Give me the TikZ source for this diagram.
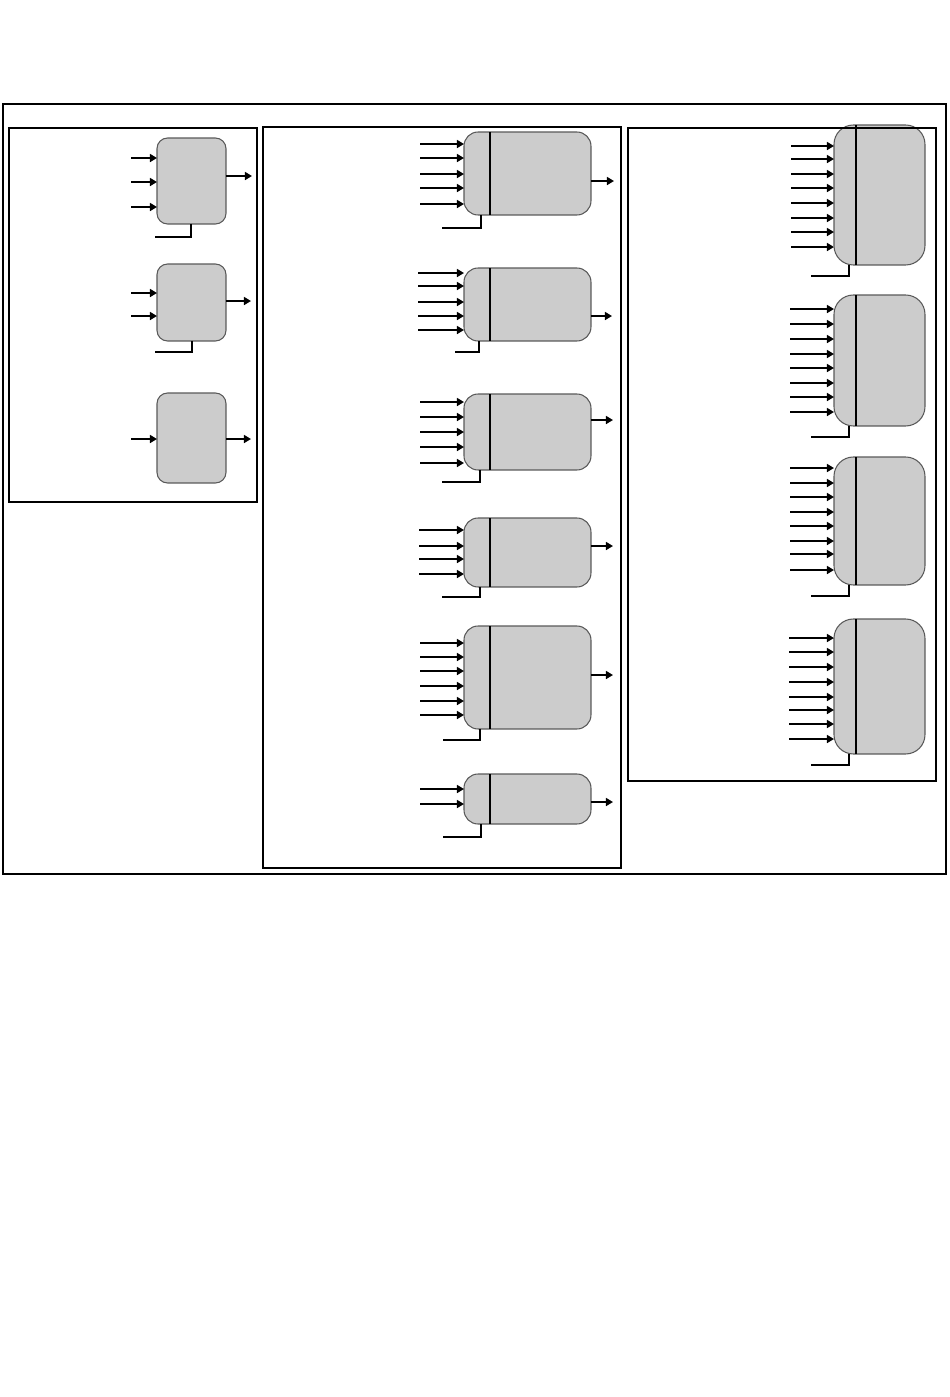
\documentclass[tikz,border=0pt]{standalone}
\usepackage{tikz}
\usetikzlibrary{calc, positioning, arrows.meta}

\tikzset{
    unit/.style={draw=black!65, fill=black!20, line width=0.6pt, rounded corners=#1,
        inner sep=0pt, outer sep=0pt, anchor=north west},
    unit/.default=6pt,
    panel/.style={draw=black, line width=0.7pt},
    sig/.style={-{Triangle[length=4pt, width=4.5pt]}, line width=1.5pt},
    tap/.style={line width=0.6pt},
    split/.style={line width=0.6pt}
}

\begin{document}
\begin{tikzpicture}[x=0.02cm, y=-0.02cm]
    \useasboundingbox (0,0) rectangle (950,1397);

    % 1. LEFT PANEL: three plain units
    \node[unit, minimum width=1.38cm, minimum height=1.72cm] (la) at (157,138) {};
    \node[unit, minimum width=1.38cm, minimum height=1.54cm] (lb) at (157,264) {};
    \node[unit, minimum width=1.38cm, minimum height=1.80cm] (lc) at (157,393) {};

    \foreach \y in {158, 182, 207} {
        \draw[sig] (131,\y) -- (la.west |- 0,\y);
    }
    \draw[sig] (la.east |- 0,176) -- (252,176);
    \draw[tap] ([xshift=0.68cm]la.south west) |- (155,237);

    \foreach \y in {293, 316} {
        \draw[sig] (131,\y) -- (lb.west |- 0,\y);
    }
    \draw[sig] (lb.east |- 0,301) -- (251,301);
    \draw[tap] ([xshift=0.70cm]lb.south west) |- (155,352);

    \draw[sig] (131,439) -- (lc.west |- 0,439);
    \draw[sig] (lc.east |- 0,439) -- (251,439);

    % 2. MIDDLE PANEL: six split units with outputs
    \node[unit=8pt, minimum width=2.54cm, minimum height=1.66cm] (ma) at (464,132) {};
    \node[unit=8pt, minimum width=2.54cm, minimum height=1.46cm] (mb) at (464,268) {};
    \node[unit=8pt, minimum width=2.54cm, minimum height=1.52cm] (mc) at (464,394) {};
    \node[unit=8pt, minimum width=2.54cm, minimum height=1.38cm] (md) at (464,518) {};
    \node[unit=8pt, minimum width=2.54cm, minimum height=2.06cm] (me) at (464,626) {};
    \node[unit=8pt, minimum width=2.54cm, minimum height=1.00cm] (mf) at (464,774) {};

    \foreach \blk in {ma, mb, mc, md, me, mf} {
        \draw[split] ([xshift=0.52cm]\blk.north west) -- ([xshift=0.52cm]\blk.south west);
    }

    \foreach \y in {144, 158, 174, 188, 204} {
        \draw[sig] (420,\y) -- (ma.west |- 0,\y);
    }
    \draw[sig] (ma.east |- 0,181) -- (614,181);
    \draw[tap] ([xshift=0.34cm]ma.south west) |- (442,228);

    \foreach \y in {273, 286, 302, 316, 330} {
        \draw[sig] (418,\y) -- (mb.west |- 0,\y);
    }
    \draw[sig] (mb.east |- 0,316) -- (612,316);
    \draw[tap] ([xshift=0.30cm]mb.south west) |- (455,352);

    \foreach \y in {402, 417, 432, 447, 463} {
        \draw[sig] (420,\y) -- (mc.west |- 0,\y);
    }
    \draw[sig] (mc.east |- 0,420) -- (613,420);
    \draw[tap] ([xshift=0.32cm]mc.south west) |- (442,482);

    \foreach \y in {530, 546, 559, 574} {
        \draw[sig] (419,\y) -- (md.west |- 0,\y);
    }
    \draw[sig] (md.east |- 0,546) -- (613,546);
    \draw[tap] ([xshift=0.32cm]md.south west) |- (442,597);

    \foreach \y in {643, 657, 671, 686, 701, 715} {
        \draw[sig] (420,\y) -- (me.west |- 0,\y);
    }
    \draw[sig] (me.east |- 0,675) -- (613,675);
    \draw[tap] ([xshift=0.32cm]me.south west) |- (443,740);

    \foreach \y in {789, 804} {
        \draw[sig] (420,\y) -- (mf.west |- 0,\y);
    }
    \draw[sig] (mf.east |- 0,802) -- (613,802);
    \draw[tap] ([xshift=0.34cm]mf.south west) |- (443,837);

    % 3. RIGHT PANEL: four tall units, eight inputs each
    \node[unit=11pt, minimum width=1.82cm, minimum height=2.80cm] (ra) at (834,125) {};
    \node[unit=11pt, minimum width=1.82cm, minimum height=2.62cm] (rb) at (834,295) {};
    \node[unit=11pt, minimum width=1.82cm, minimum height=2.56cm] (rc) at (834,457) {};
    \node[unit=11pt, minimum width=1.82cm, minimum height=2.70cm] (rd) at (834,619) {};

    \foreach \blk in {ra, rb, rc, rd} {
        \draw[split] ([xshift=0.44cm]\blk.north west) -- ([xshift=0.44cm]\blk.south west);
        \draw[tap] ([xshift=0.30cm]\blk.south west) |- ++(-38,11);
    }

    \foreach \y in {146, 159, 174, 188, 203, 218, 232, 247} {
        \draw[sig] (791,\y) -- (ra.west |- 0,\y);
    }
    \foreach \y in {309, 324, 339, 354, 368, 383, 397, 412} {
        \draw[sig] (790,\y) -- (rb.west |- 0,\y);
    }
    \foreach \y in {468, 483, 497, 512, 526, 541, 554, 570} {
        \draw[sig] (790,\y) -- (rc.west |- 0,\y);
    }
    \foreach \y in {638, 652, 667, 682, 697, 710, 724, 739} {
        \draw[sig] (789,\y) -- (rd.west |- 0,\y);
    }

    % 4. FRAMES
    \draw[panel] (3,104) rectangle (946,874);
    \draw[panel] (9,128) rectangle (257,502);
    \draw[panel] (263,127) rectangle (621,868);
    \draw[panel] (628,128) rectangle (936,781);

\end{tikzpicture}
\end{document}
